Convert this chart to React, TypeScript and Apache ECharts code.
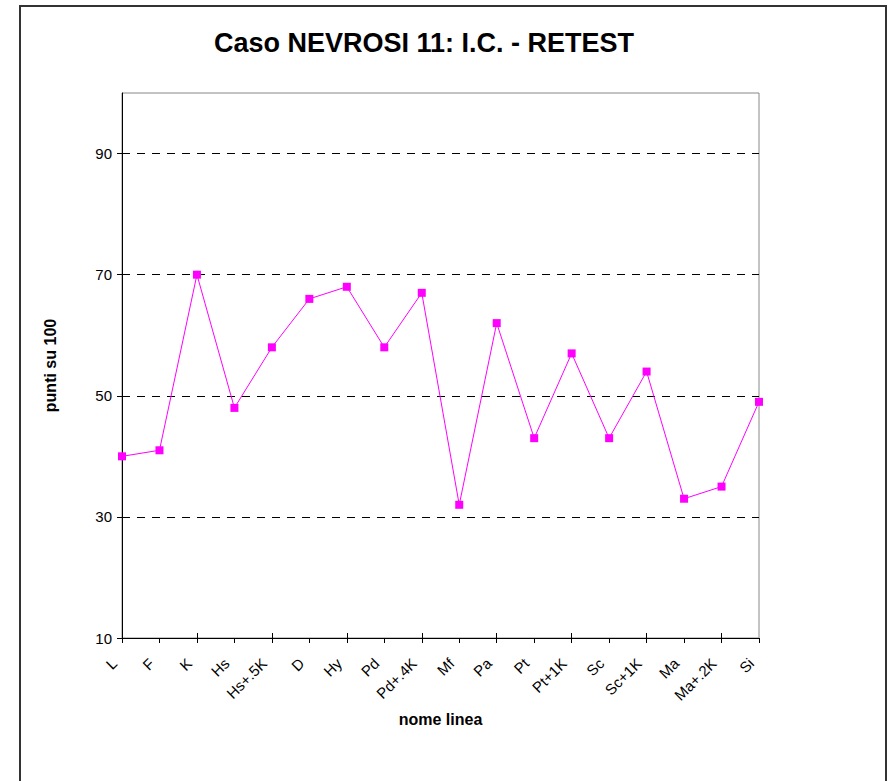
import React, { useEffect, useRef } from "react";
import * as echarts from "echarts";

const categories = ["L", "F", "K", "Hs", "Hs+.5K", "D", "Hy", "Pd", "Pd+.4K", "Mf", "Pa", "Pt", "Pt+1K", "Sc", "Sc+1K", "Ma", "Ma+.2K", "Si"];
const values = [40, 41, 70, 48, 58, 66, 68, 58, 67, 32, 62, 43, 57, 43, 54, 33, 35, 49];
const yMin = 10;
const yMax = 100;
const yInterval = 20;
const titleText = "Caso NEVROSI 11: I.C. - RETEST";
const yName = "punti su 100";
const xName = "nome linea";

export default function App() {
  const ref = useRef<HTMLDivElement>(null);
  useEffect(() => {
    if (!ref.current) return;
    const chart = echarts.init(ref.current, undefined, { renderer: "svg" });
    const font = "'Liberation Sans', Arial, sans-serif";
    chart.setOption({
      animation: false,
      backgroundColor: "#fff",
      textStyle: { fontFamily: font },
      title: {
        text: titleText,
        left: 419,
        textAlign: "center",
        top: 24,
        textStyle: { fontFamily: font, fontSize: 27, fontWeight: "bold", color: "#000" },
      },
      graphic: [
        {
          type: "rect",
          shape: { x: 20, y: 6, width: 866, height: 820 },
          style: { fill: "none", stroke: "#333", lineWidth: 2 },
          silent: true,
          z: 100,
        },
      ],
      grid: {
        left: 122,
        top: 93,
        right: 129,
        bottom: 143,
        show: true,
        borderColor: "#888",
        borderWidth: 1,
        backgroundColor: "#fff",
      },
      xAxis: [
        {
          type: "category",
          data: categories,
          boundaryGap: false,
          name: xName,
          nameLocation: "middle",
          nameGap: 73,
          nameTextStyle: { fontFamily: font, fontSize: 16, fontWeight: "bold", color: "#000" },
          axisLine: { lineStyle: { color: "#000", width: 1 } },
          axisTick: { show: true, length: 5, lineStyle: { color: "#000" } },
          axisLabel: {
            rotate: 45,
            interval: 0,
            fontFamily: font,
            fontSize: 15,
            color: "#000",
            margin: 15,
            padding: [0, 11, 0, 0],
          },
          splitLine: { show: false },
        },
        {
          type: "category",
          data: categories,
          boundaryGap: false,
          position: "bottom",
          axisLine: { show: false },
          axisTick: { show: true, inside: true, length: 5, lineStyle: { color: "#000" } },
          axisLabel: { show: false },
          splitLine: { show: false },
        },
      ],
      yAxis: {
        type: "value",
        min: yMin,
        max: yMax,
        interval: yInterval,
        name: yName,
        nameLocation: "middle",
        nameGap: 64,
        nameTextStyle: { fontFamily: font, fontSize: 16, fontWeight: "bold", color: "#000" },
        axisLine: { show: true, lineStyle: { color: "#000", width: 1 } },
        axisTick: { show: true, length: 5, lineStyle: { color: "#000" } },
        axisLabel: { fontFamily: font, fontSize: 15, color: "#000", margin: 10, showMaxLabel: false },
        splitLine: {
          show: true,
          showMinLine: false,
          showMaxLine: false,
          lineStyle: { color: "#000", type: [8, 7], width: 1 },
        },
      },
      series: [
        {
          type: "line",
          data: values,
          xAxisIndex: 0,
          symbol: "rect",
          symbolSize: 8,
          lineStyle: { color: "#FF00FF", width: 1 },
          itemStyle: { color: "#FF00FF" },
        },
      ],
    });
    return () => chart.dispose();
  }, []);
  return (
    <div
      ref={ref}
      style={{ position: "absolute", left: 0, top: 0, width: 888, height: 781 }}
    />
  );
}
